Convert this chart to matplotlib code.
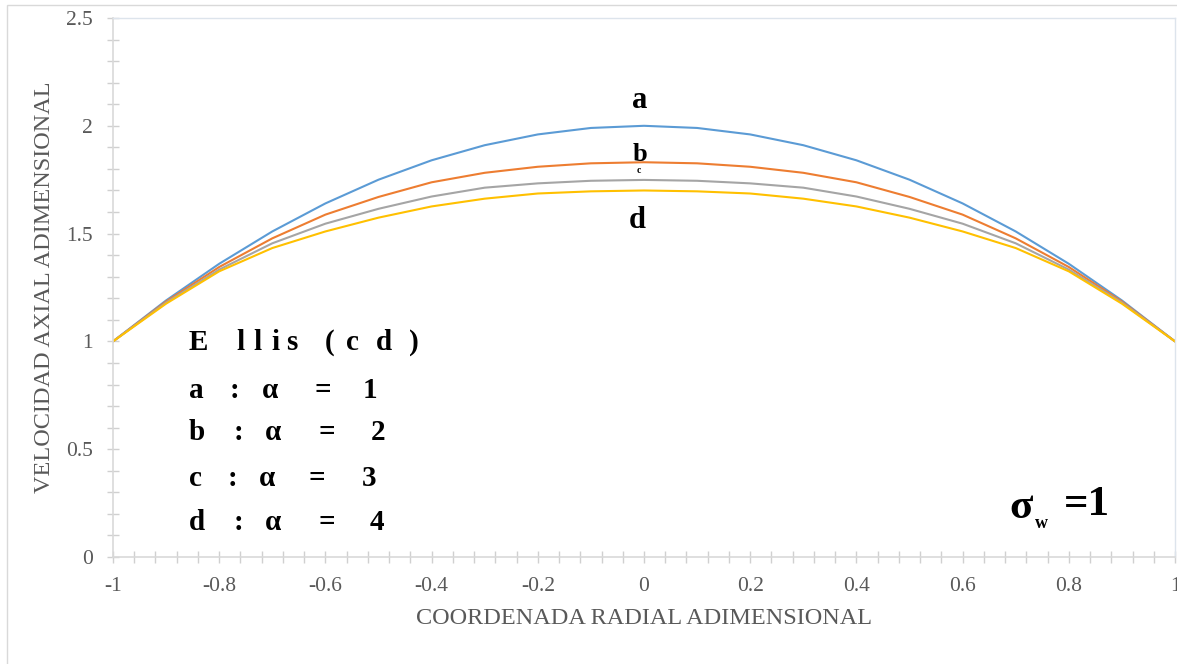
import matplotlib
matplotlib.use("Agg")
import matplotlib.pyplot as plt
from matplotlib.ticker import MultipleLocator
from matplotlib.patches import Rectangle

# Data (symmetric profiles)
x_vals = [-1.0, -0.9, -0.8, -0.7, -0.6, -0.5, -0.4, -0.3, -0.2, -0.1, 0.0,
          0.1, 0.2, 0.3, 0.4, 0.5, 0.6, 0.7, 0.8, 0.9, 1.0]
half_a = [1.00, 1.19, 1.36, 1.51, 1.64, 1.75, 1.84, 1.91, 1.96, 1.99, 2.00]
half_b = [1.00, 1.185, 1.345, 1.478, 1.588, 1.670, 1.738, 1.782, 1.810, 1.826, 1.831]
half_c = [1.00, 1.180, 1.333, 1.455, 1.546, 1.615, 1.672, 1.713, 1.733, 1.745, 1.749]
half_d = [1.00, 1.175, 1.325, 1.433, 1.510, 1.574, 1.626, 1.662, 1.686, 1.696, 1.700]
series_a = half_a + half_a[-2::-1]
series_b = half_b + half_b[-2::-1]
series_c = half_c + half_c[-2::-1]
series_d = half_d + half_d[-2::-1]
series_colors = ["#5B9BD5", "#ED7D31", "#A5A5A5", "#FFC000"]
x_ticks = [-1, -0.8, -0.6, -0.4, -0.2, 0, 0.2, 0.4, 0.6, 0.8, 1]
x_tick_labels = ["-1", "-0.8", "-0.6", "-0.4", "-0.2", "0", "0.2", "0.4", "0.6", "0.8", "1"]
y_ticks = [0, 0.5, 1, 1.5, 2, 2.5]
y_tick_labels = ["0", "0.5", "1", "1.5", "2", "2.5"]

W, H = 1177, 664
fig = plt.figure(figsize=(W / 100, H / 100), dpi=100)
fig.patch.set_facecolor("white")
# outer chart border
fig.patches.append(Rectangle((7 / W, -0.1), 1.2, 1 - 5 / H + 0.1, transform=fig.transFigure,
                             fill=False, edgecolor="#d9d9d9", linewidth=1.0))

ax = fig.add_axes([113 / W, 1 - 557 / H, (1175 - 113) / W, (557 - 18) / H])
serif = ["Liberation Serif", "DejaVu Serif"]

for s, c in zip([series_a, series_b, series_c, series_d], series_colors):
    ax.plot(x_vals, s, color=c, linewidth=1.5, solid_capstyle="round",
            solid_joinstyle="round")

ax.set_xlim(-1, 1)
ax.set_ylim(0, 2.5)
ax.set_xticks(x_ticks)
ax.set_xticklabels(x_tick_labels)
ax.set_yticks(y_ticks)
ax.set_yticklabels(y_tick_labels)
ax.xaxis.set_minor_locator(MultipleLocator(0.04))
ax.yaxis.set_minor_locator(MultipleLocator(0.1))
for lab in ax.get_xticklabels() + ax.get_yticklabels():
    lab.set_fontfamily(serif)
    lab.set_fontsize(15.5)
    lab.set_color("#595959")
ax.tick_params(which="both", direction="inout", color="#d0d0d0", width=1.0)
ax.tick_params(which="major", length=9)
ax.tick_params(which="minor", length=8)
ax.tick_params(axis="x", which="major", pad=10)
ax.tick_params(axis="y", which="major", pad=10)

for side in ["left", "bottom"]:
    ax.spines[side].set_color("#d9d9d9")
    ax.spines[side].set_linewidth(1.2)
for side in ["top", "right"]:
    ax.spines[side].set_color("#dde4ec")
    ax.spines[side].set_linewidth(1.0)

ax.set_xlabel("COORDENADA RADIAL ADIMENSIONAL", fontfamily=serif, fontsize=17.5,
              color="#595959", va="center")
ax.set_ylabel("VELOCIDAD AXIAL ADIMENSIONAL", fontfamily=serif, fontsize=17.5,
              color="#595959", va="center")
ax.xaxis.set_label_coords(0.5, -(619 - 557) / 539.0)
ax.yaxis.set_label_coords(-(113 - 45) / 1062.0, 0.5)

bold = dict(fontfamily=serif, fontweight="bold", color="black")


def px2data(px, py):
    return (-1 + (px - 113) / 531.0, (557 - py) / 215.6)


def put(px, py, s, size, ha="center", va="center"):
    xd, yd = px2data(px, py)
    ax.text(xd, yd, s, fontsize=size, ha=ha, va=va, **bold)


# curve labels
put(640, 100, "a", 22)
put(640, 155, "b", 19)
put(639, 171, "c", 7)
put(637, 221, "d", 22)

# legend block: "E l l i s ( c d )" with the reference's wide letter spacing
title_chars = ["E", "l", "l", "i", "s", "(", "c", "d", ")"]
title_px = [198, 240, 257, 275, 292, 330, 352, 384, 414]
for ch, px in zip(title_chars, title_px):
    put(px, 342, ch, 21)
rows = [
    (390, "a", 235, 270, 323, 370, "1"),
    (433, "b", 239, 273, 327, 378, "2"),
    (478, "c", 232, 267, 317, 369, "3"),
    (523, "d", 239, 273, 327, 377, "4"),
]
for py, letter, colon_x, alpha_x, eq_x, num_x, num in rows:
    put(189, py, letter, 21, ha="left")
    put(colon_x, py, ":", 21)
    put(alpha_x, py, "α", 21)
    put(eq_x, py, "=", 21)
    put(num_x, py, num, 21)

# sigma_w = 1
put(1021, 508, "σ", 31)
put(1041, 524, "w", 13)
put(1087, 505, "=1", 31)

fig.savefig("out.png", dpi=100, facecolor="white")
